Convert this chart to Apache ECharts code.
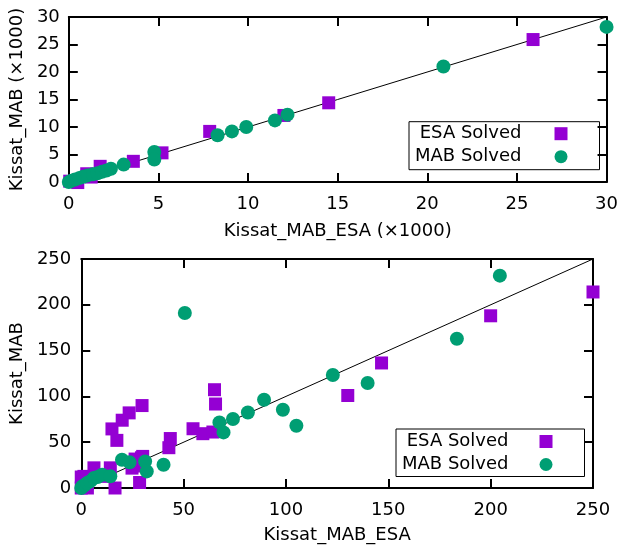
<!DOCTYPE html>
<html>
<head>
<meta charset="utf-8">
<script src="https://cdn.jsdelivr.net/npm/echarts@6/dist/echarts.min.js"></script>
<style>
html,body{margin:0;padding:0;background:#fff;}
#c{width:621px;height:549px;}
</style>
</head>
<body>
<div id="c"></div>
<script>
// ---- Data (top plot, values in thousands) ----
var topEsa = [[0.05,0.15],[0.3,0.05],[0.5,-0.1],[1.0,1.5],[1.25,0.9],[1.75,2.85],[3.6,3.76],[5.2,5.3],[7.86,9.2],[12.0,12.1],[14.5,14.4],[25.9,25.9]];
var topMab = [[0.0,0.0],[0.15,0.25],[0.35,0.45],[0.6,0.75],[0.8,0.95],[1.05,1.2],[1.35,1.4],[1.6,1.6],[1.85,1.85],[2.1,2.1],[2.35,2.4],[3.06,3.16],[4.77,5.45],[4.77,4.07],[8.3,8.5],[9.1,9.2],[9.9,10.0],[11.5,11.2],[12.2,12.25],[20.9,21.0],[30.0,28.2]];
var topDiag = [[0,0],[30,30]];
var topTicks = {min:0, max:30, interval:5};

// ---- Data (bottom plot) ----
var botEsa = [[0,0],[0,12],[1.3,12.7],[3,0],[3,5],[6.2,22],[11.8,12.7],[14.2,22],[16.5,0],[15,64.5],[17.4,52],[20,74],[23.4,82],[29.7,90],[24.8,21.7],[26.4,24],[26.3,31.6],[29.4,33],[28.5,6],[30,34.5],[42.8,44],[43.5,54],[54.6,64.7],[59.4,59.3],[64.3,61.1],[65.1,107.3],[65.6,91.7],[130.2,101],[146.7,136.5],[200,188],[250,214]];
var botMab = [[0,0],[0.5,1.7],[1.5,3],[2.9,5.5],[4.5,7.5],[6.2,10.9],[8,12],[10.2,14.5],[14.2,12.7],[19.9,30.9],[23.6,28],[31.2,29],[32,18.1],[40.2,25.4],[50.6,191],[67.5,71.6],[69.5,60.7],[74.1,75.3],[81.4,82.5],[89.3,96.4],[98.5,85.5],[105.1,68],[122.9,123.4],[139.9,114.6],[183.5,163],[204.5,231.8]];
var botDiag = [[0,0],[250,250]];
var botTicks = {min:0, max:250, interval:50};

var seriesNames = ['ESA Solved','MAB Solved'];
var axisNames = {topX:'Kissat_MAB_ESA (×1000)', topY:'Kissat_MAB (×1000)', botX:'Kissat_MAB_ESA', botY:'Kissat_MAB'};

var FONT = 'DejaVu Sans';
var PURPLE = '#9400D3', GREEN = '#009E73';

function mainAxis(grid, t, pos, name, gap, margin){
  return {
    type:'value', gridIndex:grid, position:pos, min:t.min, max:t.max, interval:t.interval,
    name:name, nameLocation:'middle', nameGap:gap,
    nameTextStyle:{fontFamily:FONT, fontSize:18, color:'#000'},
    axisLine:{show:true, onZero:false, lineStyle:{color:'#000', width:2}},
    axisTick:{show:true, inside:true, length:9, lineStyle:{color:'#000', width:2}},
    axisLabel:{show:true, margin:margin, fontFamily:FONT, fontSize:18, color:'#000'},
    splitLine:{show:false}
  };
}
function mirrorAxis(grid, t, pos){
  return {
    type:'value', gridIndex:grid, position:pos, min:t.min, max:t.max, interval:t.interval,
    axisLine:{show:true, onZero:false, lineStyle:{color:'#000', width:2}},
    axisTick:{show:true, inside:true, length:9, lineStyle:{color:'#000', width:2}},
    axisLabel:{show:false}, splitLine:{show:false}
  };
}

function legend(left, top, pad, textPadRight){
  return {
    orient:'vertical', align:'right', left:left, top:top, padding:pad,
    itemGap:5, itemWidth:13, itemHeight:13, selectedMode:false,
    borderColor:'#000', borderWidth:1, borderRadius:0,
    textStyle:{fontFamily:FONT, fontSize:18, color:'#000', padding:[0,textPadRight,0,0]},
    data:[{name:seriesNames[0], icon:'rect', itemStyle:{color:PURPLE, opacity:1}},
          {name:seriesNames[1], icon:'circle', itemStyle:{color:GREEN, opacity:1}}]
  };
}

var chart = echarts.init(document.getElementById('c'), null, {renderer:'canvas'});
chart.setOption({
  animation:false,
  backgroundColor:'#fff',
  grid:[
    {left:67, top:17, width:544, height:165},
    {left:77, top:259, width:516, height:229}
  ],
  xAxis:[
    mainAxis(0, topTicks, 'bottom', axisNames.topX, 40, 13),
    mirrorAxis(0, topTicks, 'top'),
    mainAxis(1, botTicks, 'bottom', axisNames.botX, 38, 13),
    mirrorAxis(1, botTicks, 'top')
  ],
  yAxis:[
    mainAxis(0, topTicks, 'left', axisNames.topY, 38, 9),
    mirrorAxis(0, topTicks, 'right'),
    mainAxis(1, botTicks, 'left', axisNames.botY, 39, 10),
    mirrorAxis(1, botTicks, 'right')
  ],
  legend:[
    legend(409, 121.7, [3,32,4,6], 28),
    legend(396, 429, [3.5,32,3,6], 26)
  ],
  series:[
    {type:'line', xAxisIndex:0, yAxisIndex:0, data:topDiag, symbol:'none', silent:true, z:1,
     lineStyle:{color:'#000', width:1}},
    {type:'scatter', name:seriesNames[0], xAxisIndex:0, yAxisIndex:0, data:topEsa, symbol:'rect', symbolSize:13, clip:false, z:2,
     itemStyle:{color:PURPLE, opacity:1}},
    {type:'scatter', name:seriesNames[1], xAxisIndex:0, yAxisIndex:0, data:topMab, symbol:'circle', symbolSize:14, clip:false, z:3,
     itemStyle:{color:GREEN, opacity:1}},
    {type:'line', xAxisIndex:2, yAxisIndex:2, data:botDiag, symbol:'none', silent:true, z:1,
     lineStyle:{color:'#000', width:1}},
    {type:'scatter', name:seriesNames[0], xAxisIndex:2, yAxisIndex:2, data:botEsa, symbol:'rect', symbolSize:13, clip:false, z:2,
     itemStyle:{color:PURPLE, opacity:1}},
    {type:'scatter', name:seriesNames[1], xAxisIndex:2, yAxisIndex:2, data:botMab, symbol:'circle', symbolSize:14, clip:false, z:3,
     itemStyle:{color:GREEN, opacity:1}}
  ]
});
</script>
</body>
</html>
